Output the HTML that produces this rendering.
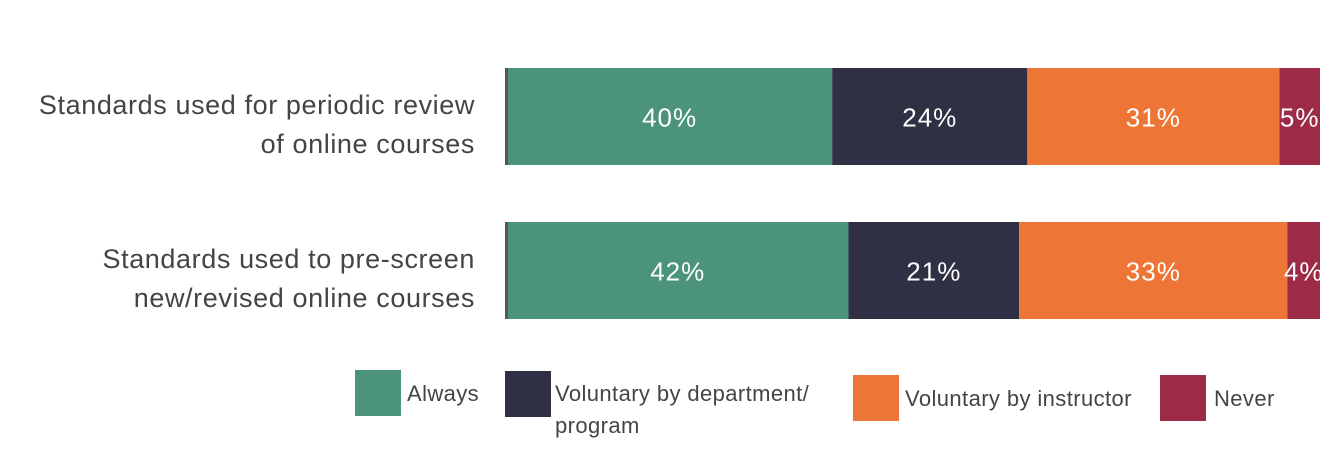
<!DOCTYPE html>
<html><head><meta charset="utf-8"><style>
body{margin:0;background:#fff;width:1344px;height:473px;overflow:hidden;font-family:"Liberation Sans",sans-serif}
svg{display:block}
</style></head><body>
<svg id="chart" width="1344" height="473"></svg>
<script>
const categories=["Standards used for periodic review|of online courses","Standards used to pre-screen|new/revised online courses"];
const seriesNames=["Always","Voluntary by department/|program","Voluntary by instructor","Never"];
const always=[40,42];
const dept=[24,21];
const instructor=[31,33];
const never=[5,4];
const colors=["#4b9479","#2f3043","#ed7636","#9d2b48"];
const series=[always,dept,instructor,never];
const svg=document.getElementById('chart');
const NS='http://www.w3.org/2000/svg';
const x0=507,x1=1320;
const xs=v=>v/100*(x1-x0);
const rowY=[68,222],rowH=97;
function mk(t,a){const e=document.createElementNS(NS,t);for(const k in a)e.setAttribute(k,a[k]);svg.appendChild(e);return e;}
categories.forEach((c,i)=>{
  const lines=c.split('|');
  lines.forEach((l,j)=>{
    const t=mk('text',{x:475,y:rowY[i]+46+j*39,'text-anchor':'end','font-size':27,'letter-spacing':0.6,fill:'#444'});
    
    
    t.textContent=l;
  });
  let acc=0;
  series.forEach((s,k)=>{
    const v=s[i];
    const r=mk('rect',{x:x0+xs(acc),y:rowY[i],width:xs(v),height:rowH,fill:colors[k]});
    
    
    const t=mk('text',{x:x0+xs(acc+v/2),y:rowY[i]+rowH/2+10,'text-anchor':'middle','font-size':26,'letter-spacing':1,fill:'#fff'});
    
    
    t.textContent=v+'%';
    acc+=v;
  });
  const ax=mk('rect',{x:x0-2,y:rowY[i],width:3,height:rowH,fill:'#555'});
  
  
});
const leg=[[355,370,407,393],[505,371,555,393],[853,375,905,398],[1160,375,1214,398]];
seriesNames.forEach((n,k)=>{
  const p=leg[k];
  const r=mk('rect',{x:p[0],y:p[1],width:46,height:46,fill:colors[k]});
  
  
  n.split('|').forEach((l,j)=>{
    const t=mk('text',{x:p[2],y:p[3]+8+j*32,'font-size':22,'letter-spacing':0.4,fill:'#444'});
    
    
    t.textContent=l;
  });
});
</script>
</body></html>
